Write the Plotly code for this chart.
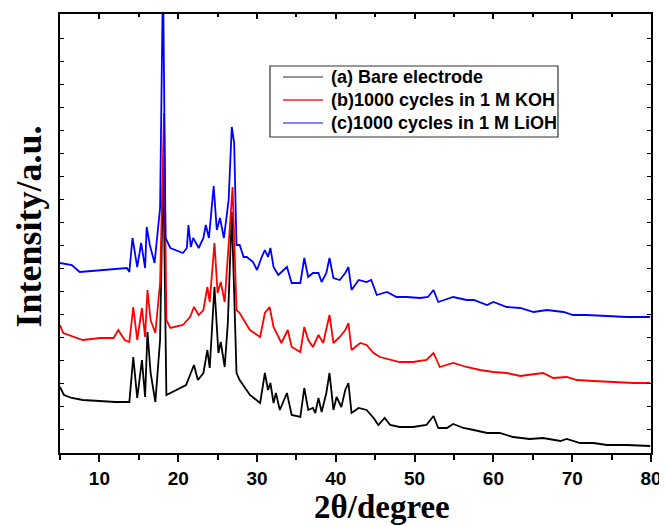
import plotly.graph_objects as go

# ---- data (2theta in degrees, intensity in arbitrary units) ----
theta_a = [5.0, 5.5, 6.5, 7.9, 10.0, 12.0, 13.8, 14.3, 14.8, 15.4, 15.8, 16.1, 16.5, 17.1, 17.7, 18.1,
           18.5, 19.5, 21.0, 22.0, 22.5, 23.2, 23.7, 24.0, 24.6, 25.1, 25.4, 25.9, 26.3, 26.8, 27.4,
           27.8, 28.7, 29.1, 30.4, 31.0, 31.4, 31.7, 32.1, 32.4, 32.9, 33.8, 34.4, 35.5, 36.0, 36.5,
           37.1, 37.4, 37.8, 38.2, 38.8, 39.2, 39.7, 40.1, 40.7, 41.2, 41.6, 42.0, 42.9, 43.9, 44.8,
           45.4, 46.2, 46.9, 48.1, 49.8, 51.5, 52.4, 53.0, 54.1, 54.9, 56.2, 57.5, 59.2, 60.8, 62.5,
           64.6, 66.3, 68.5, 69.3, 71.0, 72.7, 74.4, 76.9, 79.9]
int_a = [66, 58, 55, 53, 52, 51, 51, 96, 55, 93, 56, 121, 80, 51, 113, 293,
         58, 62, 68, 88, 73, 80, 103, 85, 166, 100, 111, 86, 130, 241, 80,
         73, 63, 58, 50, 80, 63, 70, 50, 60, 43, 60, 38, 36, 65, 43,
         45, 40, 55, 41, 60, 80, 43, 56, 46, 63, 70, 40, 45, 43, 35,
         28, 35, 28, 26, 26, 28, 37, 25, 25, 29, 25, 23, 20, 20, 16,
         14, 15, 12, 14, 10, 10, 8, 8, 7]

theta_b = [5.0, 5.4, 7.9, 10.1, 11.8, 12.4, 13.2, 13.8, 14.3, 14.8, 15.4, 15.8, 16.1, 16.5, 17.1, 17.7,
           18.2, 18.5, 19.0, 20.6, 21.5, 22.0, 22.6, 23.2, 23.7, 24.0, 24.6, 25.0, 25.4, 25.9, 26.9,
           27.4, 27.8, 29.1, 30.4, 31.0, 31.6, 32.1, 33.1, 33.9, 34.4, 35.5, 36.0, 36.5, 37.1, 37.8,
           38.4, 39.2, 39.7, 40.5, 41.2, 41.6, 42.0, 43.1, 43.9, 44.8, 45.6, 46.9, 48.1, 49.8, 51.5,
           52.4, 53.2, 54.9, 56.6, 58.3, 60.0, 61.7, 63.4, 66.3, 67.6, 69.3, 70.6, 72.7, 75.2, 77.8, 79.9]
int_b = [128, 120, 113, 115, 115, 123, 113, 111, 146, 113, 145, 116, 163, 133, 120, 170,
         340, 133, 125, 128, 136, 146, 138, 143, 166, 151, 210, 160, 171, 151, 266,
         143, 140, 123, 116, 140, 146, 126, 110, 123, 106, 101, 126, 113, 106, 118,
         110, 138, 110, 116, 123, 130, 103, 110, 108, 100, 96, 93, 91, 91, 93,
         100, 86, 90, 86, 83, 81, 80, 77, 80, 75, 76, 73, 72, 71, 70, 70]

theta_c = [5.0, 6.5, 7.5, 10.1, 13.5, 13.8, 14.2, 14.8, 15.3, 15.8, 16.0, 16.4, 17.0, 17.7, 18.07,
           18.4, 19.0, 20.6, 21.1, 21.3, 21.6, 21.9, 22.6, 23.2, 23.5, 23.9, 24.5, 24.9, 25.3, 25.8,
           26.4, 26.8, 27.1, 27.4, 27.8, 28.3, 28.7, 29.5, 30.0, 30.6, 31.0, 31.4, 31.7, 32.1, 32.7,
           33.8, 34.4, 35.5, 36.0, 36.5, 37.1, 37.8, 38.2, 38.8, 39.2, 39.7, 40.5, 41.2, 41.6, 42.0,
           42.9, 43.9, 44.5, 45.2, 46.5, 47.7, 49.0, 50.7, 51.7, 52.4, 53.0, 54.9, 56.6, 57.5, 59.2,
           60.0, 61.7, 63.4, 65.1, 66.8, 68.9, 70.1, 71.8, 74.4, 76.9, 79.9]
int_c = [190, 188, 181, 183, 185, 181, 215, 186, 210, 185, 226, 208, 190, 245, 480,
         215, 205, 200, 205, 228, 206, 215, 205, 215, 228, 215, 267, 223, 235, 215,
         253, 326, 310, 208, 208, 196, 196, 191, 183, 196, 203, 196, 205, 186, 178,
         186, 170, 170, 195, 176, 180, 180, 171, 180, 195, 175, 173, 180, 186, 163,
         173, 171, 173, 158, 161, 156, 156, 155, 156, 163, 151, 156, 153, 153, 148,
         151, 146, 145, 141, 143, 141, 138, 138, 137, 136, 136]

names = ["(a) Bare electrode", "(b)1000 cycles in 1 M KOH", "(c)1000 cycles in 1 M LiOH"]
colors = ["#000000", "#ff0000", "#0000ff"]
legend_colors = ["#707070", "#ff2020", "#5a5aff"]

x_ticks = [10, 20, 30, 40, 50, 60, 70, 80]
x_minor = [5, 15, 25, 35, 45, 55, 65, 75]
x_range = [5, 80]
y_range = [0, 439]

fig = go.Figure()
for xs, ys, nm, col in zip([theta_a, theta_b, theta_c], [int_a, int_b, int_c], names, colors):
    fig.add_trace(go.Scatter(x=xs, y=ys, mode="lines", name=nm, showlegend=False,
                             line=dict(color=col, width=1.8)))

# invisible trace to carry the top axis
fig.add_trace(go.Scatter(x=x_range, y=[None, None], xaxis="x2", showlegend=False, hoverinfo="skip"))

tickfont = dict(family="Arial, Liberation Sans", size=19, color="black", weight="bold")

# ---- boxed legend (drawn in paper coordinates) ----
box = dict(x0=0.3553, x1=0.8426, y0=0.7198, y1=0.8815)
row_y = [0.8565, 0.8041, 0.7517]
shapes = [dict(type="rect", xref="paper", yref="paper", line=dict(color="#333333", width=1.2),
               fillcolor="white", layer="above", **box)]
annotations = []
for nm, lc, ry in zip(names, legend_colors, row_y):
    shapes.append(dict(type="line", xref="paper", yref="paper", x0=0.3773, x1=0.4450, y0=ry, y1=ry,
                       line=dict(color=lc, width=1.5), layer="above"))
    annotations.append(dict(text=nm, xref="paper", yref="paper", x=0.4560, y=ry,
                            xanchor="left", yanchor="middle", showarrow=False,
                            font=dict(family="Arial, Liberation Sans", size=18, color="black",
                                      weight="bold")))

annotations += [
    dict(text="<b>Intensity/a.u.</b>", xref="paper", yref="paper", x=-0.053, y=0.515,
         xanchor="center", yanchor="middle", textangle=-90, showarrow=False,
         font=dict(family="Liberation Serif, Times New Roman", size=36, color="black")),
    dict(text="<b>2θ/degree</b>", xref="paper", yref="paper", x=0.545, y=-0.122,
         xanchor="center", yanchor="middle", showarrow=False,
         font=dict(family="Liberation Serif, Times New Roman", size=33, color="black")),
]

fig.update_layout(
    width=659, height=518,
    margin=dict(l=52, r=16, t=6, b=73),
    paper_bgcolor="white", plot_bgcolor="white",
    showlegend=False,
    shapes=shapes,
    annotations=annotations,
    xaxis=dict(range=x_range, tickvals=x_ticks,
               ticks="outside", ticklen=7, tickwidth=1.5, tickcolor="black",
               minor=dict(tickvals=x_minor, ticks="outside", ticklen=5,
                          tickwidth=1.5, tickcolor="black"),
               showline=True, linewidth=2, linecolor="black", showgrid=False, zeroline=False,
               tickfont=tickfont, automargin=False),
    xaxis2=dict(range=x_range, overlaying="x", side="top", matches="x",
                tickvals=x_ticks, ticks="inside", ticklen=5, tickwidth=1.5, tickcolor="black",
                minor=dict(tickvals=x_minor, ticks="inside", ticklen=3,
                           tickwidth=1.5, tickcolor="black"),
                showticklabels=False, showline=True, linewidth=2, linecolor="black",
                showgrid=False, zeroline=False, automargin=False),
    yaxis=dict(range=y_range, tick0=1, dtick=23, ticks="inside", ticklen=4, tickwidth=1.2,
               tickcolor="black", showticklabels=False, showline=True, linewidth=2,
               linecolor="black", mirror="ticks", showgrid=False, zeroline=False,
               automargin=False),
)

fig.write_html("out.html")
